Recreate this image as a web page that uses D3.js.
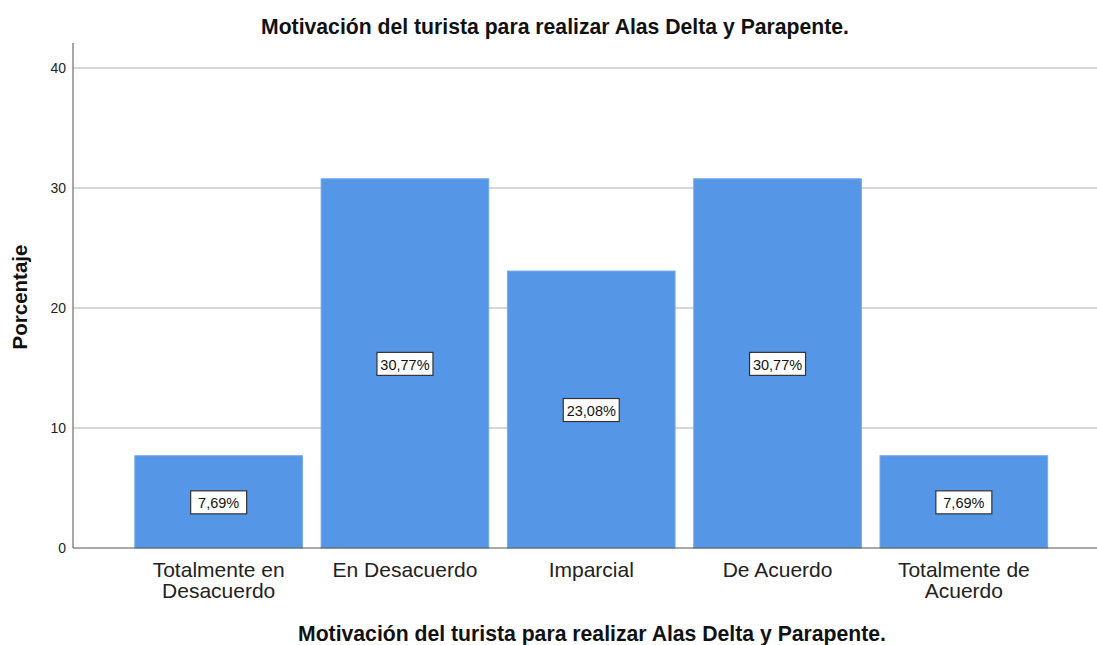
<!DOCTYPE html>
<html>
<head>
<meta charset="utf-8">
<title>Motivación del turista</title>
<style>
  body { margin: 0; background: #fff; }
  text { font-family: "Liberation Sans", Arial, sans-serif; }
</style>
</head>
<body>
<div id="chart"></div>
<script src="https://cdn.jsdelivr.net/npm/d3@7"></script>
<script>
var categories = ["Totalmente en|Desacuerdo", "En Desacuerdo", "Imparcial", "De Acuerdo", "Totalmente de|Acuerdo"];
var values = [7.69, 30.77, 23.08, 30.77, 7.69];
var yTicks = [0, 10, 20, 30, 40];
var titleText = "Motivación del turista para realizar Alas Delta y Parapente.";
var xTitleText = "Motivación del turista para realizar Alas Delta y Parapente.";
var yTitleText = "Porcentaje";

var W = 1097, H = 645;
var axisX = 73, plotTop = 43, plotBottom = 548, plotRight = 1097;

var svg = d3.select("#chart").append("svg")
  .attr("width", W).attr("height", H);

var y = d3.scaleLinear().domain([0, 40]).range([plotBottom, 68]);
var x = d3.scaleBand().domain(categories).range([125.5, 1057])
  .paddingInner(0.1).paddingOuter(0.05);

// gridlines
svg.append("g").selectAll("line")
  .data(yTicks.filter(function(d){ return d > 0; }))
  .enter().append("line")
  .attr("x1", axisX).attr("x2", plotRight)
  .attr("y1", function(d){ return y(d); })
  .attr("y2", function(d){ return y(d); })
  .attr("stroke", "#c8c8c8").attr("stroke-width", 1.5);

// bars
svg.append("g").selectAll("rect")
  .data(values).enter().append("rect")
  .attr("x", function(d, i){ return x(categories[i]); })
  .attr("width", x.bandwidth())
  .attr("y", function(d){ return y(d); })
  .attr("height", function(d){ return y(0) - y(d); })
  .attr("fill", "#5596e6")
  .attr("stroke", "#76aaec").attr("stroke-width", 1);

// y axis
var yAxis = svg.append("g")
  .attr("transform", "translate(" + axisX + ",0)")
  .call(d3.axisLeft(y).tickValues(yTicks).tickSize(0).tickPadding(7));
yAxis.select(".domain").remove();
yAxis.selectAll("text").attr("font-size", 14).attr("fill", "#222")
  .style("font-family", "'Liberation Sans', Arial, sans-serif");
svg.append("line")
  .attr("x1", axisX).attr("x2", axisX)
  .attr("y1", plotTop).attr("y2", plotBottom)
  .attr("stroke", "#8a8a8a").attr("stroke-width", 1.5);

// x axis line
svg.append("line")
  .attr("x1", axisX).attr("x2", plotRight)
  .attr("y1", plotBottom).attr("y2", plotBottom)
  .attr("stroke", "#555").attr("stroke-width", 1.2);

// category labels
var catG = svg.append("g").selectAll("text")
  .data(categories).enter().append("text")
  .attr("x", function(d){ return x(d) + x.bandwidth() / 2; })
  .attr("y", 577)
  .attr("text-anchor", "middle")
  .attr("font-size", 21)
  .attr("fill", "#222");
catG.each(function(d){
  var lines = d.split("|");
  var t = d3.select(this);
  lines.forEach(function(l, k){
    t.append("tspan").attr("x", t.attr("x")).attr("dy", k === 0 ? 0 : 21).text(l);
  });
});

// value labels
var lab = svg.append("g").selectAll("g")
  .data(values).enter().append("g")
  .attr("transform", function(d, i){
    return "translate(" + (x(categories[i]) + x.bandwidth() / 2) + "," + ((y(d) + y(0)) / 2 + 1) + ")";
  });
lab.append("rect")
  .attr("x", -28).attr("y", -12).attr("width", 56).attr("height", 23)
  .attr("fill", "#fff").attr("stroke", "#333").attr("stroke-width", 1.2);
lab.append("text")
  .attr("text-anchor", "middle").attr("dy", "0.36em")
  .attr("font-size", 14.5).attr("fill", "#111")
  .text(function(d){ return d.toFixed(2).replace(".", ",") + "%"; });

// titles
svg.append("text")
  .attr("x", 555).attr("y", 34)
  .attr("text-anchor", "middle").attr("font-size", 21.2).attr("font-weight", "bold")
  .attr("fill", "#111").text(titleText);

svg.append("text")
  .attr("x", 592).attr("y", 641)
  .attr("text-anchor", "middle").attr("font-size", 21.2).attr("font-weight", "bold")
  .attr("fill", "#111").text(xTitleText);

svg.append("text")
  .attr("transform", "translate(27,297) rotate(-90)")
  .attr("text-anchor", "middle").attr("font-size", 20.5).attr("font-weight", "bold")
  .attr("fill", "#111").text(yTitleText);
</script>
</body>
</html>
